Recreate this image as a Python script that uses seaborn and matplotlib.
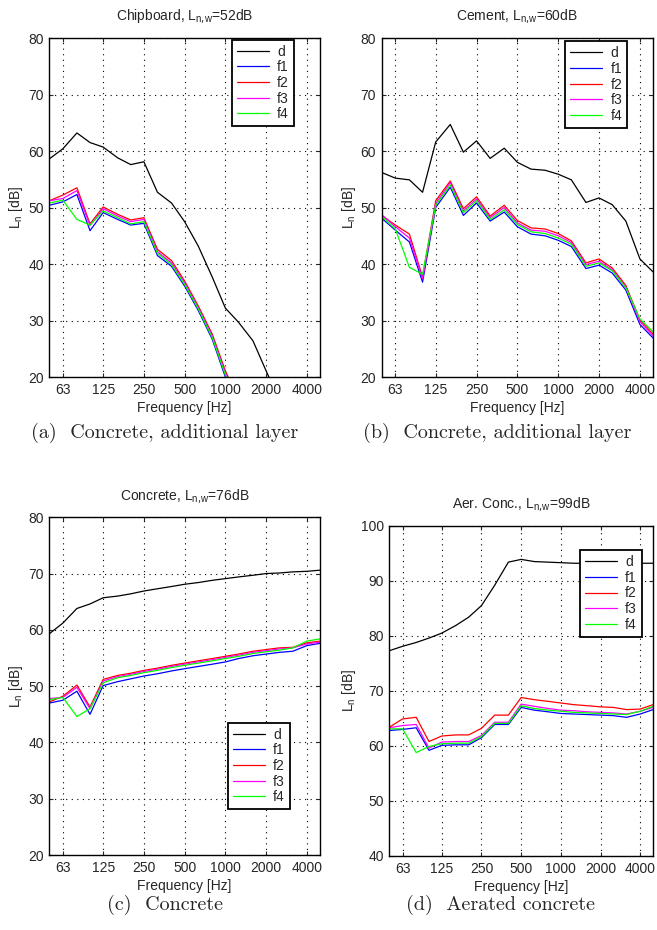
import numpy as np
import pandas as pd
import matplotlib
matplotlib.use("Agg")
import matplotlib.pyplot as plt
import matplotlib.ticker as mticker
import seaborn as sns

# third-octave band centres (Hz)
freqs = [50, 63, 80, 100, 125, 160, 200, 250, 315, 400, 500, 630, 800,
         1000, 1250, 1600, 2000, 2500, 3150, 4000, 5000]
tick_freqs = [63, 125, 250, 500, 1000, 2000, 4000]
curve_names = ['d', 'f1', 'f2', 'f3', 'f4']
colors = ['#000000', '#0000FF', '#FF0000', '#FF00FF', '#00FF00']

# (a) chipboard
a_d = [58.6, 60.4, 63.2, 61.5, 60.7, 58.8, 57.6, 58.1, 52.7, 50.8, 47.5, 43.2, 37.7,
       32.2, 29.7, 26.4, 21.1, 16.0, 12.0, 8.0, 5.0]
a_f1 = [50.4, 51.0, 52.3, 45.9, 49.1, 47.9, 46.9, 47.2, 41.5, 39.6, 36.1, 31.8, 26.7,
        20.0, 15.0, 10.0, 5.0, 2.0, 0.0, -2.0, -4.0]
a_f2 = [51.2, 52.2, 53.5, 47.1, 50.1, 48.8, 47.8, 48.2, 42.6, 40.6, 37.0, 32.6, 27.6,
        21.1, 16.0, 11.0, 6.0, 3.0, 1.0, -1.0, -3.0]
a_f3 = [51.2, 51.6, 53.0, 46.8, 49.8, 48.5, 47.5, 47.9, 42.2, 40.2, 36.7, 32.3, 27.3,
        20.7, 15.7, 10.7, 5.7, 2.7, 0.7, -1.3, -3.3]
a_f4 = [50.8, 51.3, 47.9, 46.9, 49.4, 48.2, 47.1, 47.5, 41.9, 39.9, 36.4, 32.1, 27.0,
        20.4, 15.4, 10.4, 5.4, 2.4, 0.4, -1.6, -3.6]

# (b) cement
b_d = [56.2, 55.2, 54.9, 52.7, 61.6, 64.7, 59.8, 61.8, 58.7, 60.5, 58.0, 56.8, 56.6,
       55.9, 54.9, 50.9, 51.7, 50.5, 47.6, 40.9, 38.6]
b_f1 = [48.1, 46.0, 43.9, 36.8, 50.0, 53.6, 48.6, 50.8, 47.6, 49.2, 46.6, 45.3, 45.0,
        44.2, 43.1, 39.2, 39.8, 38.4, 35.4, 29.3, 26.9]
b_f2 = [48.6, 46.9, 45.3, 37.7, 51.2, 54.7, 49.8, 51.9, 48.5, 50.4, 47.7, 46.4, 46.2,
        45.4, 44.1, 40.2, 40.9, 39.3, 36.2, 30.1, 27.6]
b_f3 = [48.7, 46.6, 44.6, 37.4, 50.7, 54.4, 49.4, 51.5, 48.2, 50.0, 47.3, 46.0, 45.8,
        45.0, 43.8, 39.9, 40.5, 39.0, 35.9, 29.8, 27.3]
b_f4 = [48.4, 46.2, 39.4, 38.2, 50.4, 54.0, 49.1, 51.2, 47.9, 49.6, 47.0, 45.7, 45.4,
        44.6, 43.5, 39.6, 40.2, 38.8, 35.8, 30.3, 28.0]

# (c) concrete
c_d = [59.3, 61.2, 63.8, 64.6, 65.7, 66.0, 66.4, 66.9, 67.3, 67.7, 68.1, 68.4, 68.8,
       69.1, 69.4, 69.7, 70.0, 70.1, 70.3, 70.4, 70.6]
c_f1 = [47.0, 47.5, 49.1, 45.0, 50.1, 50.8, 51.3, 51.8, 52.2, 52.7, 53.1, 53.5, 53.9,
        54.3, 54.9, 55.4, 55.7, 56.0, 56.2, 57.2, 57.6]
c_f2 = [47.2, 48.2, 50.2, 46.3, 51.2, 51.9, 52.3, 52.8, 53.2, 53.7, 54.1, 54.5, 54.9,
        55.3, 55.7, 56.2, 56.5, 56.8, 56.9, 57.7, 58.0]
c_f3 = [47.8, 48.0, 49.8, 46.0, 50.9, 51.7, 52.1, 52.6, 53.0, 53.5, 53.9, 54.3, 54.7,
        55.1, 55.5, 56.0, 56.3, 56.6, 56.8, 57.5, 57.8]
c_f4 = [47.6, 48.0, 44.6, 46.0, 50.6, 51.5, 51.9, 52.4, 52.8, 53.3, 53.7, 54.1, 54.5,
        54.9, 55.3, 55.8, 56.1, 56.4, 56.8, 58.0, 58.4]

# (d) aerated concrete
d_d = [77.3, 78.1, 78.8, 79.6, 80.5, 81.9, 83.4, 85.5, 89.2, 93.4, 93.9, 93.5, 93.4,
       93.3, 93.2, 93.2, 93.2, 93.2, 93.2, 93.2, 93.2]
d_f1 = [62.8, 63.0, 63.3, 59.2, 60.1, 60.2, 60.2, 61.5, 63.9, 63.9, 67.0, 66.5, 66.2,
        65.9, 65.8, 65.7, 65.6, 65.5, 65.2, 65.8, 66.6]
d_f2 = [63.4, 64.9, 65.2, 60.8, 61.8, 62.0, 62.0, 63.2, 65.6, 65.6, 68.8, 68.4, 68.1,
        67.8, 67.5, 67.3, 67.1, 67.0, 66.6, 66.7, 67.5]
d_f3 = [63.3, 63.7, 63.9, 59.6, 60.7, 60.8, 60.8, 61.9, 64.3, 64.3, 67.6, 67.2, 66.8,
        66.5, 66.4, 66.2, 66.1, 66.0, 65.8, 66.3, 67.0]
d_f4 = [63.1, 63.1, 58.8, 59.9, 60.4, 60.5, 60.5, 61.7, 64.1, 64.1, 67.3, 66.8, 66.5,
        66.3, 66.1, 66.0, 65.9, 65.8, 65.7, 66.3, 67.2]

titles = [r'Chipboard, L$_{n\text{,}w}$=52dB', r'Cement, L$_{n\text{,}w}$=60dB',
          r'Concrete, L$_{n\text{,}w}$=76dB', r'Aer. Conc., L$_{n\text{,}w}$=99dB']
captions = ['(a)  Concrete, additional layer', '(b)  Concrete, additional layer',
            '(c)  Concrete', '(d)  Aerated concrete']

sns.set_style("ticks")
plt.rcParams['font.family'] = ['Liberation Sans', 'DejaVu Sans']
plt.rcParams['mathtext.default'] = 'regular'
plt.rcParams['font.size'] = 10
plt.rcParams['legend.fancybox'] = False
plt.rcParams['legend.edgecolor'] = 'black'
plt.rcParams['legend.framealpha'] = 1

fig = plt.figure(figsize=(6.57, 9.30), dpi=100)

panels = [
    dict(pos=[0.075, 0.5946, 0.412, 0.3645], curves=[a_d, a_f1, a_f2, a_f3, a_f4],
         ylim=(20, 80), yticks=range(20, 81, 10), leg=('upper left', (0.675, 0.995))),
    dict(pos=[0.581, 0.5946, 0.413, 0.3645], curves=[b_d, b_f1, b_f2, b_f3, b_f4],
         ylim=(20, 80), yticks=range(20, 81, 10), leg=('upper left', (0.676, 0.99))),
    dict(pos=[0.075, 0.0806, 0.412, 0.3632], curves=[c_d, c_f1, c_f2, c_f3, c_f4],
         ylim=(20, 80), yticks=range(20, 81, 10), leg=('lower left', (0.66, 0.136))),
    dict(pos=[0.5925, 0.0796, 0.4015, 0.355], curves=[d_d, d_f1, d_f2, d_f3, d_f4],
         ylim=(40, 100), yticks=range(40, 101, 10), leg=('upper left', (0.723, 0.926))),
]
caption_xy = [(165, 433), (497, 433), (165, 905), (500, 905)]

for i, p in enumerate(panels):
    ax = fig.add_axes(p['pos'])
    rows = []
    for name, vals in zip(curve_names, p['curves']):
        for f, v in zip(freqs, vals):
            rows.append({'freq': f, 'Ln': v, 'curve': name})
    df = pd.DataFrame(rows)
    sns.lineplot(data=df, x='freq', y='Ln', hue='curve', hue_order=curve_names,
                 palette=colors, linewidth=0.9, errorbar=None, legend=False, ax=ax)
    ax.set_xscale('log')
    ax.set_xlim(50, 5000)
    ax.set_ylim(*p['ylim'])
    ax.set_xticks(tick_freqs)
    ax.set_xticklabels([str(t) for t in tick_freqs])
    ax.xaxis.set_minor_locator(mticker.NullLocator())
    ax.set_yticks(list(p['yticks']))
    ax.grid(True, linestyle=(0, (1, 4)), color='black', linewidth=0.8)
    ax.tick_params(direction='in', top=True, right=True, length=3, labelsize=10, pad=4)
    for s in ax.spines.values():
        s.set_linewidth(1.0)
        s.set_color('black')
    ax.set_xlabel('Frequency [Hz]', fontsize=10, labelpad=3)
    ax.set_ylabel(r'L$_n$ [dB]', fontsize=10, labelpad=2)
    ax.set_title(titles[i], fontsize=10, pad=13)
    loc, anchor = p['leg']
    leg = ax.legend(ax.get_lines()[:5], curve_names, loc=loc, bbox_to_anchor=anchor,
                    fontsize=10, handlelength=2.3, labelspacing=0.12, borderpad=0.35,
                    handletextpad=0.6, borderaxespad=0)
    leg.get_frame().set_linewidth(1.3)
    cx, cy = caption_xy[i]
    fig.text(cx / 657, 1 - cy / 930, captions[i], ha='center', va='center',
             fontsize=14.5, family=['cmr10', 'DejaVu Serif'])

fig.savefig('out.png', dpi=100)
